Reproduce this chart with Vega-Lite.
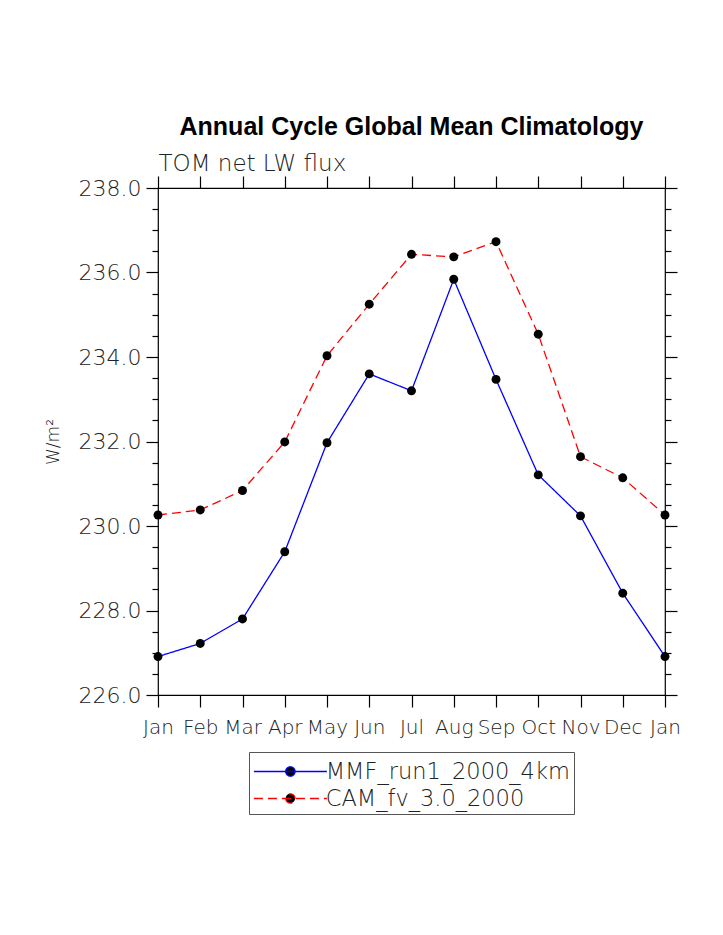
{
  "$schema": "https://vega.github.io/schema/vega-lite/v6.json",
  "width": 507,
  "height": 507,
  "autosize": {"type": "none"},
  "padding": {"left": 158, "top": 188, "right": 58, "bottom": 240},
  "background": "white",
  "title": {
    "text": "Annual Cycle Global Mean Climatology",
    "font": "Liberation Sans",
    "fontWeight": "bold",
    "fontSize": 25,
    "color": "black",
    "anchor": "middle",
    "offset": 12
  },
  "data": {
    "values": [
      {"m": 0, "series": "MMF_run1_2000_4km", "v": 226.91},
      {"m": 1, "series": "MMF_run1_2000_4km", "v": 227.22},
      {"m": 2, "series": "MMF_run1_2000_4km", "v": 227.80},
      {"m": 3, "series": "MMF_run1_2000_4km", "v": 229.39},
      {"m": 4, "series": "MMF_run1_2000_4km", "v": 231.97},
      {"m": 5, "series": "MMF_run1_2000_4km", "v": 233.60},
      {"m": 6, "series": "MMF_run1_2000_4km", "v": 233.20},
      {"m": 7, "series": "MMF_run1_2000_4km", "v": 235.84},
      {"m": 8, "series": "MMF_run1_2000_4km", "v": 233.47},
      {"m": 9, "series": "MMF_run1_2000_4km", "v": 231.21},
      {"m": 10, "series": "MMF_run1_2000_4km", "v": 230.24},
      {"m": 11, "series": "MMF_run1_2000_4km", "v": 228.41},
      {"m": 12, "series": "MMF_run1_2000_4km", "v": 226.91},
      {"m": 0, "series": "CAM_fv_3.0_2000", "v": 230.26},
      {"m": 1, "series": "CAM_fv_3.0_2000", "v": 230.38},
      {"m": 2, "series": "CAM_fv_3.0_2000", "v": 230.84},
      {"m": 3, "series": "CAM_fv_3.0_2000", "v": 231.99},
      {"m": 4, "series": "CAM_fv_3.0_2000", "v": 234.03},
      {"m": 5, "series": "CAM_fv_3.0_2000", "v": 235.25},
      {"m": 6, "series": "CAM_fv_3.0_2000", "v": 236.43},
      {"m": 7, "series": "CAM_fv_3.0_2000", "v": 236.37},
      {"m": 8, "series": "CAM_fv_3.0_2000", "v": 236.73},
      {"m": 9, "series": "CAM_fv_3.0_2000", "v": 234.54},
      {"m": 10, "series": "CAM_fv_3.0_2000", "v": 231.64},
      {"m": 11, "series": "CAM_fv_3.0_2000", "v": 231.14},
      {"m": 12, "series": "CAM_fv_3.0_2000", "v": 230.26}
    ]
  },
  "layer": [
    {
      "mark": {"type": "line", "strokeWidth": 1.3},
      "encoding": {
        "x": {
          "field": "m", "type": "quantitative",
          "scale": {"domain": [0, 12], "nice": false, "zero": false},
          "axis": {
            "orient": "bottom", "values": [0,1,2,3,4,5,6,7,8,9,10,11,12],
            "labelExpr": "['Jan','Feb','Mar','Apr','May','Jun','Jul','Aug','Sep','Oct','Nov','Dec','Jan'][datum.value]",
            "tickSize": 12, "labelPadding": 10, "labelFontSize": 20, "title": null,
            "labelFlush": false, "labelOverlap": false
          }
        },
        "y": {
          "field": "v", "type": "quantitative",
          "scale": {"domain": [226, 238], "nice": false, "zero": false},
          "axis": {
            "orient": "left", "values": [226,228,230,232,234,236,238],
            "format": ".1f", "tickSize": 12, "labelPadding": 5, "labelFontSize": 22,
            "labelFlush": false, "labelOverlap": false,
            "title": "W/m²", "titleFontSize": 17, "titleFontWeight": 300, "titlePadding": 16,
            "titleColor": "#222", "titleFont": "DejaVu Sans"
          }
        },
        "color": {
          "field": "series", "type": "nominal",
          "scale": {"domain": ["MMF_run1_2000_4km", "CAM_fv_3.0_2000"], "range": ["#0000ff", "#ff0000"]},
          "legend": {"title": null, "encode": {"symbols": {"update": {"fill": {"value": "black"}}}}}
        },
        "strokeDash": {
          "field": "series", "type": "nominal",
          "scale": {"domain": ["MMF_run1_2000_4km", "CAM_fv_3.0_2000"], "range": [[1, 0], [9, 5]]},
          "legend": {"title": null, "encode": {"symbols": {"update": {"fill": {"value": "black"}}}}}
        }
      }
    },
    {
      "mark": {"type": "point", "filled": true, "color": "black", "size": 80, "opacity": 1},
      "encoding": {
        "x": {
          "field": "m", "type": "quantitative",
          "axis": {"orient": "top", "values": [0,1,2,3,4,5,6,7,8,9,10,11,12], "labels": false, "tickSize": 12,
            "title": "TOM net LW flux", "titleAnchor": "start", "titleAlign": "left", "titleFontSize": 23,
            "titleFontWeight": 300, "titlePadding": 0, "titleColor": "#222", "titleFont": "DejaVu Sans"}
        },
        "y": {
          "field": "v", "type": "quantitative",
          "axis": {"orient": "right", "values": [226,228,230,232,234,236,238], "labels": false, "tickSize": 12, "title": null}
        }
      }
    },
    {
      "mark": {"type": "point", "opacity": 0},
      "encoding": {
        "x": {"field": "m", "type": "quantitative", "axis": null},
        "y": {
          "field": "v", "type": "quantitative",
          "axis": {"orient": "left", "values": [226.5,227,227.5,228.5,229,229.5,230.5,231,231.5,232.5,233,233.5,234.5,235,235.5,236.5,237,237.5], "labels": false, "tickSize": 6, "title": null}
        }
      }
    },
    {
      "mark": {"type": "point", "opacity": 0},
      "encoding": {
        "x": {"field": "m", "type": "quantitative", "axis": null},
        "y": {
          "field": "v", "type": "quantitative",
          "axis": {"orient": "right", "values": [226.5,227,227.5,228.5,229,229.5,230.5,231,231.5,232.5,233,233.5,234.5,235,235.5,236.5,237,237.5], "labels": false, "tickSize": 6, "title": null}
        }
      }
    }
  ],
  "resolve": {"axis": {"x": "independent", "y": "independent"}},
  "config": {
    "font": "DejaVu Sans",
    "view": {"stroke": "black", "strokeWidth": 1.2},
    "axis": {
      "domain": false, "grid": false, "ticks": true,
      "tickColor": "black", "tickWidth": 1.2,
      "labelColor": "#222", "labelFont": "DejaVu Sans", "labelFontWeight": 300
    },
    "legend": {
      "orient": "none", "legendX": 91, "legendY": 564,
      "padding": 4, "strokeColor": "#555", "fillColor": "white",
      "symbolType": "M-2.5,0H2.5M-0.32,0A0.32,0.32 0 1,0 0.32,0A0.32,0.32 0 1,0 -0.32,0Z",
      "symbolSize": 853, "symbolStrokeWidth": 1.3, "symbolFillColor": "black",
      "symbolOffset": 21.9, "labelOffset": 19.8, "rowPadding": 0,
      "labelFontSize": 22.5, "labelColor": "#222", "labelFont": "DejaVu Sans", "labelFontWeight": 300,
      "labelLimit": 400
    }
  }
}
